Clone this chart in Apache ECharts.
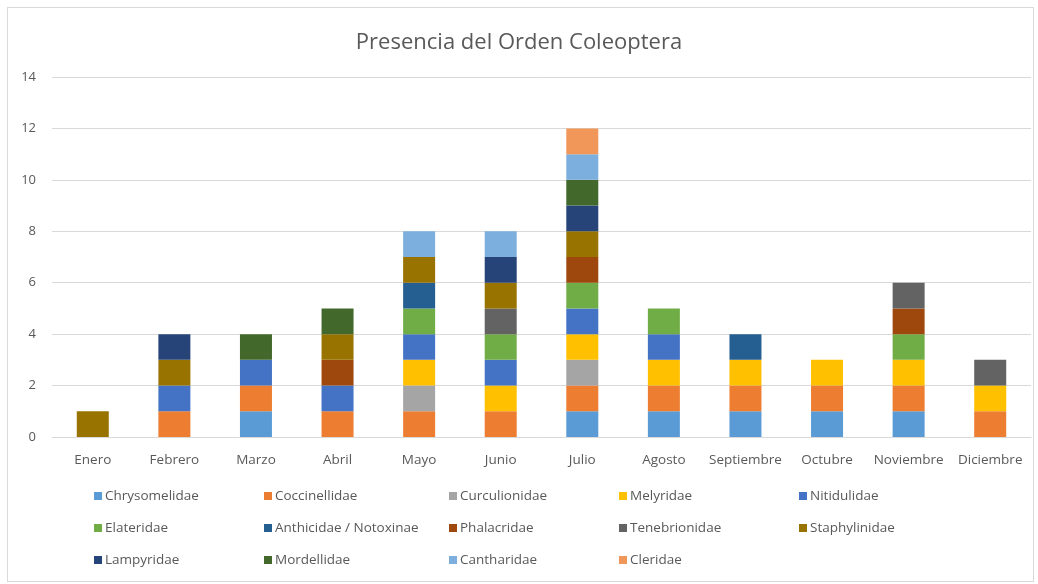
<!DOCTYPE html>
<html>
<head>
<meta charset="utf-8">
<script src="https://cdn.jsdelivr.net/npm/echarts@6/dist/echarts.min.js"></script>
<style>
html,body{margin:0;padding:0;background:#fff;}
#frame{position:absolute;left:7px;top:7px;width:1027px;height:575px;border:1px solid #d9d9d9;box-sizing:border-box;}
#chart{position:absolute;left:0;top:0;width:1038px;height:584px;}
</style>
</head>
<body>
<div id="frame"></div>
<div id="chart"></div>
<script>
const months = ['Enero','Febrero','Marzo','Abril','Mayo','Junio','Julio','Agosto','Septiembre','Octubre','Noviembre','Diciembre'];
const yTicks = [0,2,4,6,8,10,12,14];
const families = ['Chrysomelidae','Coccinellidae','Curculionidae','Melyridae','Nitidulidae','Elateridae','Anthicidae / Notoxinae','Phalacridae','Tenebrionidae','Staphylinidae','Lampyridae','Mordellidae','Cantharidae','Cleridae'];
const colors = ['#5B9BD5','#ED7D31','#A5A5A5','#FFC000','#4472C4','#70AD47','#255E91','#9E480E','#636363','#997300','#264478','#43682B','#7CAFDD','#F1975A'];
//                         Ene Feb Mar Abr May Jun Jul Ago Sep Oct Nov Dic
const chrysomelidae   = [0, 0, 1, 0, 0, 0, 1, 1, 1, 1, 1, 0];
const coccinellidae   = [0, 1, 1, 1, 1, 1, 1, 1, 1, 1, 1, 1];
const curculionidae   = [0, 0, 0, 0, 1, 0, 1, 0, 0, 0, 0, 0];
const melyridae       = [0, 0, 0, 0, 1, 1, 1, 1, 1, 1, 1, 1];
const nitidulidae     = [0, 1, 1, 1, 1, 1, 1, 1, 0, 0, 0, 0];
const elateridae      = [0, 0, 0, 0, 1, 1, 1, 1, 0, 0, 1, 0];
const anthicidae      = [0, 0, 0, 0, 1, 0, 0, 0, 1, 0, 0, 0];
const phalacridae     = [0, 0, 0, 1, 0, 0, 1, 0, 0, 0, 1, 0];
const tenebrionidae   = [0, 0, 0, 0, 0, 1, 0, 0, 0, 0, 1, 1];
const staphylinidae   = [1, 1, 0, 1, 1, 1, 1, 0, 0, 0, 0, 0];
const lampyridae      = [0, 1, 0, 0, 0, 1, 1, 0, 0, 0, 0, 0];
const mordellidae     = [0, 0, 1, 1, 0, 0, 1, 0, 0, 0, 0, 0];
const cantharidae     = [0, 0, 0, 0, 1, 1, 1, 0, 0, 0, 0, 0];
const cleridae        = [0, 0, 0, 0, 0, 0, 1, 0, 0, 0, 0, 0];
const values = [chrysomelidae,coccinellidae,curculionidae,melyridae,nitidulidae,elateridae,anthicidae,phalacridae,tenebrionidae,staphylinidae,lampyridae,mordellidae,cantharidae,cleridae];

const FONT = 'Open Sans';
const TXT = '#595959';
const legendCols = [[0,5,10],[1,6,11],[2,7,12],[3,8,13],[4,9]];
const legendX = [89, 259, 444, 614, 794];
const legends = legendCols.map((idx,i)=>({
  orient:'vertical', left:legendX[i], top:484, itemGap:18,
  itemWidth:8, itemHeight:8, icon:'rect',
  textStyle:{color:TXT,fontSize:13.5,fontFamily:FONT,padding:[0,0,0,-2]},
  data: idx.map(k=>families[k])
}));

const chart = echarts.init(document.getElementById('chart'));
chart.setOption({
  animation:false,
  title:{text:'Presencia del Orden Coleoptera',left:'center',top:27,
    textStyle:{color:TXT,fontSize:22,fontWeight:'normal',fontFamily:FONT}},
  legend: legends,
  grid:{left:52,right:7,top:77,bottom:147,containLabel:false},
  xAxis:{type:'category',data:months,
    axisLine:{lineStyle:{color:'#d9d9d9'}},axisTick:{show:false},
    axisLabel:{color:TXT,fontSize:13.5,fontFamily:FONT,margin:16,interval:0}},
  yAxis:{type:'value',min:0,max:14,interval:2,
    axisLine:{show:false},axisTick:{show:false},
    splitLine:{lineStyle:{color:'#d9d9d9'}},
    axisLabel:{color:TXT,fontSize:13,fontFamily:FONT,margin:16,
      formatter:v=>yTicks.includes(v)?String(v):''}},
  series: families.map((name,i)=>({
    name, type:'bar', stack:'total', barWidth:32,
    itemStyle:{color:colors[i]},
    data: values[i].map(v=>v===0?null:v)
  }))
});
</script>
</body>
</html>
